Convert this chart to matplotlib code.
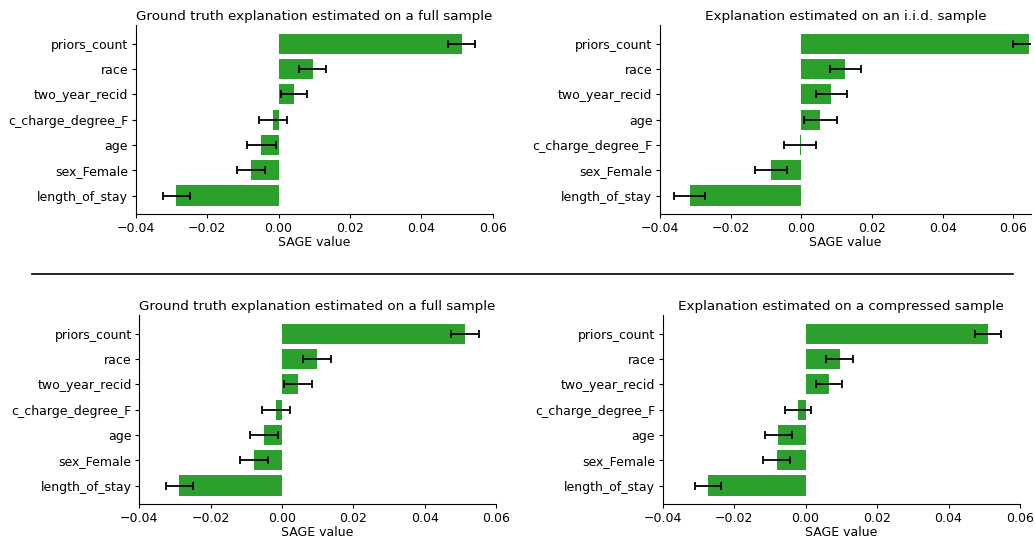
import numpy as np
import matplotlib
matplotlib.use("Agg")
import matplotlib.pyplot as plt
from matplotlib.lines import Line2D

# features listed top to bottom, per panel
feat_full = ["priors_count", "race", "two_year_recid", "c_charge_degree_F",
             "age", "sex_Female", "length_of_stay"]
feat_iid = ["priors_count", "race", "two_year_recid", "age",
            "c_charge_degree_F", "sex_Female", "length_of_stay"]

full1_val = [0.0513, 0.0096, 0.0043, -0.0015, -0.0048, -0.0076, -0.0286]
full1_err = [0.0038, 0.0038, 0.0037, 0.0039, 0.0040, 0.0039, 0.0037]

iid_val = [0.0645, 0.0124, 0.0085, 0.0054, -0.0003, -0.0085, -0.0316]
iid_err = [0.0046, 0.0044, 0.0044, 0.0047, 0.0045, 0.0045, 0.0043]

full2_val = [0.0513, 0.0098, 0.0045, -0.0017, -0.0050, -0.0078, -0.0288]
full2_err = [0.0038, 0.0039, 0.0038, 0.0039, 0.0040, 0.0039, 0.0038]

comp_val = [0.0510, 0.0095, 0.0066, -0.0022, -0.0076, -0.0081, -0.0273]
comp_err = [0.0037, 0.0037, 0.0036, 0.0037, 0.0039, 0.0037, 0.0037]

W, H = 1035, 540

def box(l, r, t, b):
    return [l / W, 1 - b / H, (r - l) / W, (b - t) / H]

def sage_plot(ax, names, vals, errs, title, xmax=0.06):
    ax.barh(names, vals, xerr=errs, color="tab:green", capsize=3,
            error_kw=dict(ecolor="black", elinewidth=1.3, capthick=1.3))
    ax.invert_yaxis()
    ax.set_xlim(-0.04, xmax)
    ax.set_xticks([-0.04, -0.02, 0.0, 0.02, 0.04, 0.06])
    ax.set_xticklabels(["\u22120.04", "\u22120.02", "0.00", "0.02", "0.04", "0.06"])
    ax.tick_params(labelsize=9, length=3, pad=2.5)
    ax.set_xlabel("SAGE value", fontsize=9, labelpad=1)
    ax.set_title(title, fontsize=9.7, pad=3.5)
    ax.spines["top"].set_visible(False)
    ax.spines["right"].set_visible(False)

fig = plt.figure(figsize=(W / 100, H / 100), dpi=100)

ax1 = fig.add_axes(box(135.7, 492.7, 25, 214.3))
sage_plot(ax1, feat_full, full1_val, full1_err,
          "Ground truth explanation estimated on a full sample")

ax2 = fig.add_axes(box(660, 1031, 25, 214.3))
sage_plot(ax2, feat_iid, iid_val, iid_err,
          "Explanation estimated on an i.i.d. sample", xmax=0.065)

ax3 = fig.add_axes(box(139.3, 496, 315, 504.3))
sage_plot(ax3, feat_full, full2_val, full2_err,
          "Ground truth explanation estimated on a full sample")

ax4 = fig.add_axes(box(662.7, 1020, 315, 504.3))
sage_plot(ax4, feat_full, comp_val, comp_err,
          "Explanation estimated on a compressed sample")

ylin = 1 - 273.7 / H
fig.add_artist(Line2D([31.7 / W, 1013.3 / W], [ylin, ylin], color="black", linewidth=1.2))

fig.savefig("out.png", dpi=100)
